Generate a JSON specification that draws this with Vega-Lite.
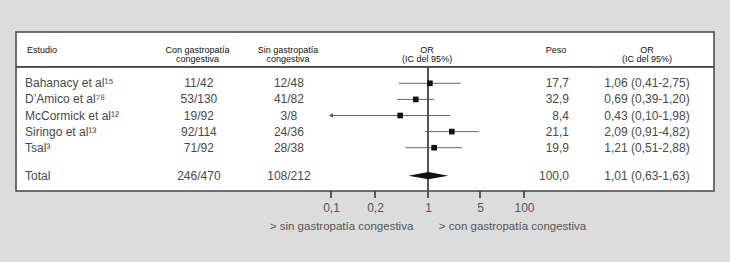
{
  "$schema": "https://vega.github.io/schema/vega-lite/v6.json",
  "autosize": "none",
  "width": 698,
  "height": 166,
  "padding": {"left": 16, "top": 32, "right": 16, "bottom": 64},
  "background": "#dcdcdc",
  "config": {
    "view": {"stroke": null},
    "font": "Liberation Sans",
    "text": {"font": "Liberation Sans"},
    "axis": {
      "domain": false, "grid": false, "ticks": false,
      "labelFontSize": 12, "labelColor": "#555555", "labelFont": "Liberation Sans",
      "labelPadding": 4, "labelFlush": false, "labelOverlap": false,
      "titleFont": "Liberation Sans", "titleFontSize": 11.5, "titleFontWeight": "normal",
      "titleColor": "#555555", "titlePadding": 7
    }
  },
  "datasets": {
    "estudios": [
      {"estudio": "Bahanacy et al¹⁵", "con": "11/42", "sin": "12/48", "peso": "17,7", "ic": "1,06 (0,41-2,75)", "or": 1.06, "lo": 0.41, "hi": 2.75, "fila": 1},
      {"estudio": "D’Amico et al⁷⁸", "con": "53/130", "sin": "41/82", "peso": "32,9", "ic": "0,69 (0,39-1,20)", "or": 0.69, "lo": 0.39, "hi": 1.20, "fila": 2},
      {"estudio": "McCormick et al¹²", "con": "19/92", "sin": "3/8", "peso": "8,4", "ic": "0,43 (0,10-1,98)", "or": 0.43, "lo": 0.10, "hi": 1.98, "fila": 3},
      {"estudio": "Siringo et al¹³", "con": "92/114", "sin": "24/36", "peso": "21,1", "ic": "2,09 (0,91-4,82)", "or": 2.09, "lo": 0.91, "hi": 4.82, "fila": 4},
      {"estudio": "Tsal³", "con": "71/92", "sin": "28/38", "peso": "19,9", "ic": "1,21 (0,51-2,88)", "or": 1.21, "lo": 0.51, "hi": 2.88, "fila": 5},
      {"estudio": "Total", "con": "246/470", "sin": "108/212", "peso": "100,0", "ic": "1,01 (0,63-1,63)", "or": 1.01, "lo": 0.63, "hi": 1.63, "fila": 6}
    ],
    "marcas": [{"v": 0.1}, {"v": 0.2}, {"v": 1}, {"v": 5}, {"v": 100}]
  },
  "data": {"name": "estudios"},
  "resolve": {"scale": {"x": "independent"}, "axis": {"x": "independent"}},
  "layer": [
    {
      "layer": [
        {
          "data": {"values": [{"caja": "tabla"}]},
          "mark": {"type": "rect", "fill": "white", "stroke": "#444444", "strokeWidth": 1.5},
          "encoding": {
            "y": {"datum": -0.54, "type": "quantitative", "axis": null,
                  "scale": {"domain": [-0.54, 0, 1, 5, 6, 6.5, 6.73], "range": [0, 18, 51.3, 115.7, 143.7, 159, 166], "nice": false, "zero": false}},
            "y2": {"datum": 6.5}
          }
        },
        {
          "transform": [{"filter": "datum.fila <= 5"}],
          "mark": {"type": "rule", "color": "#666666", "strokeWidth": 1},
          "encoding": {
            "x": {
              "field": "lo", "type": "quantitative",
              "scale": {"type": "log", "domain": [0.1, 0.2, 1, 5, 100], "range": [315, 359, 412, 464, 508], "nice": false},
              "axis": {
                "orient": "bottom",
                "values": [0.1, 0.2, 1, 5, 100],
                "labelExpr": "replace(toString(datum.value), '.', ',')",
                "title": "> sin gastropatía congestiva\u00a0\u00a0\u00a0\u00a0\u00a0\u00a0\u00a0\u00a0> con gastropatía congestiva"
              }
            },
            "x2": {"field": "hi"},
            "y": {"field": "fila", "type": "quantitative", "axis": null,
                  "scale": {"domain": [-0.54, 0, 1, 5, 6, 6.5, 6.73], "range": [0, 18, 51.3, 115.7, 143.7, 159, 166], "nice": false, "zero": false}}
          }
        },
        {
          "data": {"name": "marcas"},
          "mark": {"type": "rule", "color": "#3a3a3a", "strokeWidth": 1.6},
          "encoding": {
            "x": {"field": "v", "type": "quantitative",
                  "scale": {"type": "log", "domain": [0.1, 0.2, 1, 5, 100], "range": [315, 359, 412, 464, 508], "nice": false},
                  "axis": {
                "orient": "bottom",
                "values": [0.1, 0.2, 1, 5, 100],
                "labelExpr": "replace(toString(datum.value), '.', ',')",
                "title": "> sin gastropatía congestiva\u00a0\u00a0\u00a0\u00a0\u00a0\u00a0\u00a0\u00a0> con gastropatía congestiva"
              }},
            "y": {"datum": 6.5, "type": "quantitative", "axis": null,
                  "scale": {"domain": [-0.54, 0, 1, 5, 6, 6.5, 6.73], "range": [0, 18, 51.3, 115.7, 143.7, 159, 166], "nice": false, "zero": false}},
            "y2": {"datum": 6.73}
          }
        },
        {
          "transform": [{"filter": "datum.lo <= 0.1"}],
          "mark": {"type": "point", "shape": "triangle-left", "filled": true, "size": 22, "color": "#555555", "opacity": 1},
          "encoding": {
            "x": {"field": "lo", "type": "quantitative",
                  "scale": {"type": "log", "domain": [0.1, 0.2, 1, 5, 100], "range": [315, 359, 412, 464, 508], "nice": false},
                  "axis": {
                "orient": "bottom",
                "values": [0.1, 0.2, 1, 5, 100],
                "labelExpr": "replace(toString(datum.value), '.', ',')",
                "title": "> sin gastropatía congestiva\u00a0\u00a0\u00a0\u00a0\u00a0\u00a0\u00a0\u00a0> con gastropatía congestiva"
              }},
            "y": {"field": "fila", "type": "quantitative", "axis": null,
                  "scale": {"domain": [-0.54, 0, 1, 5, 6, 6.5, 6.73], "range": [0, 18, 51.3, 115.7, 143.7, 159, 166], "nice": false, "zero": false}}
          }
        },
        {
          "mark": {"type": "rule", "color": "#555555", "strokeWidth": 1.5},
          "encoding": {
            "x": {"datum": 1, "type": "quantitative",
                  "scale": {"type": "log", "domain": [0.1, 0.2, 1, 5, 100], "range": [315, 359, 412, 464, 508], "nice": false},
                  "axis": {
                "orient": "bottom",
                "values": [0.1, 0.2, 1, 5, 100],
                "labelExpr": "replace(toString(datum.value), '.', ',')",
                "title": "> sin gastropatía congestiva\u00a0\u00a0\u00a0\u00a0\u00a0\u00a0\u00a0\u00a0> con gastropatía congestiva"
              }},
            "y": {"datum": 0.5, "type": "quantitative", "axis": null,
                  "scale": {"domain": [-0.54, 0, 1, 5, 6, 6.5, 6.73], "range": [0, 18, 51.3, 115.7, 143.7, 159, 166], "nice": false, "zero": false}},
            "y2": {"datum": 6.73}
          }
        },
        {
          "transform": [{"filter": "datum.fila <= 5"}],
          "mark": {"type": "point", "shape": "square", "filled": true, "size": 32, "color": "#111111", "opacity": 1},
          "encoding": {
            "x": {"field": "or", "type": "quantitative",
                  "scale": {"type": "log", "domain": [0.1, 0.2, 1, 5, 100], "range": [315, 359, 412, 464, 508], "nice": false},
                  "axis": {
                "orient": "bottom",
                "values": [0.1, 0.2, 1, 5, 100],
                "labelExpr": "replace(toString(datum.value), '.', ',')",
                "title": "> sin gastropatía congestiva\u00a0\u00a0\u00a0\u00a0\u00a0\u00a0\u00a0\u00a0> con gastropatía congestiva"
              }},
            "y": {"field": "fila", "type": "quantitative", "axis": null,
                  "scale": {"domain": [-0.54, 0, 1, 5, 6, 6.5, 6.73], "range": [0, 18, 51.3, 115.7, 143.7, 159, 166], "nice": false, "zero": false}}
          }
        },
        {
          "transform": [{"filter": "datum.fila == 6"}],
          "mark": {"type": "point", "shape": "M-1,0L0,-0.18L1,0L0,0.18Z", "filled": true, "size": 1600, "color": "#111111", "opacity": 1},
          "encoding": {
            "x": {"field": "or", "type": "quantitative",
                  "scale": {"type": "log", "domain": [0.1, 0.2, 1, 5, 100], "range": [315, 359, 412, 464, 508], "nice": false},
                  "axis": {
                "orient": "bottom",
                "values": [0.1, 0.2, 1, 5, 100],
                "labelExpr": "replace(toString(datum.value), '.', ',')",
                "title": "> sin gastropatía congestiva\u00a0\u00a0\u00a0\u00a0\u00a0\u00a0\u00a0\u00a0> con gastropatía congestiva"
              }},
            "y": {"field": "fila", "type": "quantitative", "axis": null,
                  "scale": {"domain": [-0.54, 0, 1, 5, 6, 6.5, 6.73], "range": [0, 18, 51.3, 115.7, 143.7, 159, 166], "nice": false, "zero": false}}
          }
        }
      ]
    },
    {
      "layer": [
        {
          "mark": {"type": "rule", "color": "#444444", "strokeWidth": 1.2},
          "encoding": {
            "y": {"datum": 0.5, "type": "quantitative", "axis": null,
                  "scale": {"domain": [-0.54, 0, 1, 5, 6, 6.5, 6.73], "range": [0, 18, 51.3, 115.7, 143.7, 159, 166], "nice": false, "zero": false}}
          }
        },
        {
          "mark": {"type": "text", "align": "left", "baseline": "middle", "fontSize": 12, "color": "#4a4a4a"},
          "encoding": {
            "x": {"datum": 1.29, "type": "quantitative", "axis": null, "scale": {"domain": [0, 100], "nice": false, "zero": false}},
            "y": {"field": "fila", "type": "quantitative", "axis": null,
                  "scale": {"domain": [-0.54, 0, 1, 5, 6, 6.5, 6.73], "range": [0, 18, 51.3, 115.7, 143.7, 159, 166], "nice": false, "zero": false}},
            "text": {"field": "estudio"}
          }
        },
        {
          "mark": {"type": "text", "align": "center", "baseline": "middle", "fontSize": 12, "color": "#4a4a4a"},
          "encoding": {
            "x": {"datum": 26.2, "type": "quantitative", "axis": null, "scale": {"domain": [0, 100], "nice": false, "zero": false}},
            "y": {"field": "fila", "type": "quantitative", "axis": null,
                  "scale": {"domain": [-0.54, 0, 1, 5, 6, 6.5, 6.73], "range": [0, 18, 51.3, 115.7, 143.7, 159, 166], "nice": false, "zero": false}},
            "text": {"field": "con"}
          }
        },
        {
          "mark": {"type": "text", "align": "center", "baseline": "middle", "fontSize": 12, "color": "#4a4a4a"},
          "encoding": {
            "x": {"datum": 39.1, "type": "quantitative", "axis": null, "scale": {"domain": [0, 100], "nice": false, "zero": false}},
            "y": {"field": "fila", "type": "quantitative", "axis": null,
                  "scale": {"domain": [-0.54, 0, 1, 5, 6, 6.5, 6.73], "range": [0, 18, 51.3, 115.7, 143.7, 159, 166], "nice": false, "zero": false}},
            "text": {"field": "sin"}
          }
        },
        {
          "mark": {"type": "text", "align": "right", "baseline": "middle", "fontSize": 12, "color": "#4a4a4a"},
          "encoding": {
            "x": {"datum": 79.23, "type": "quantitative", "axis": null, "scale": {"domain": [0, 100], "nice": false, "zero": false}},
            "y": {"field": "fila", "type": "quantitative", "axis": null,
                  "scale": {"domain": [-0.54, 0, 1, 5, 6, 6.5, 6.73], "range": [0, 18, 51.3, 115.7, 143.7, 159, 166], "nice": false, "zero": false}},
            "text": {"field": "peso"}
          }
        },
        {
          "mark": {"type": "text", "align": "center", "baseline": "middle", "fontSize": 12, "color": "#4a4a4a"},
          "encoding": {
            "x": {"datum": 90.4, "type": "quantitative", "axis": null, "scale": {"domain": [0, 100], "nice": false, "zero": false}},
            "y": {"field": "fila", "type": "quantitative", "axis": null,
                  "scale": {"domain": [-0.54, 0, 1, 5, 6, 6.5, 6.73], "range": [0, 18, 51.3, 115.7, 143.7, 159, 166], "nice": false, "zero": false}},
            "text": {"field": "ic"}
          }
        },
        {
          "data": {"values": [
            {"titulo": ["Estudio"], "col": "estudio"}
          ]},
          "mark": {"type": "text", "align": "left", "baseline": "middle", "fontSize": 9, "lineHeight": 9, "color": "#111111"},
          "encoding": {
            "x": {"datum": 1.58, "type": "quantitative", "axis": null, "scale": {"domain": [0, 100], "nice": false, "zero": false}},
            "y": {"datum": 0, "type": "quantitative", "axis": null,
                  "scale": {"domain": [-0.54, 0, 1, 5, 6, 6.5, 6.73], "range": [0, 18, 51.3, 115.7, 143.7, 159, 166], "nice": false, "zero": false}},
            "text": {"field": "titulo"}
          }
        },
        {
          "data": {"values": [
            {"titulo": ["Con gastropatía", "congestiva"], "col": "con"}
          ]},
          "mark": {"type": "text", "align": "center", "baseline": "middle", "fontSize": 9, "lineHeight": 9, "color": "#111111"},
          "encoding": {
            "x": {"datum": 26.0, "type": "quantitative", "axis": null, "scale": {"domain": [0, 100], "nice": false, "zero": false}},
            "y": {"datum": 0, "type": "quantitative", "axis": null,
                  "scale": {"domain": [-0.54, 0, 1, 5, 6, 6.5, 6.73], "range": [0, 18, 51.3, 115.7, 143.7, 159, 166], "nice": false, "zero": false}},
            "text": {"field": "titulo"}
          }
        },
        {
          "data": {"values": [
            {"titulo": ["Sin gastropatía", "congestiva"], "col": "sin"}
          ]},
          "mark": {"type": "text", "align": "center", "baseline": "middle", "fontSize": 9, "lineHeight": 9, "color": "#111111"},
          "encoding": {
            "x": {"datum": 38.97, "type": "quantitative", "axis": null, "scale": {"domain": [0, 100], "nice": false, "zero": false}},
            "y": {"datum": 0, "type": "quantitative", "axis": null,
                  "scale": {"domain": [-0.54, 0, 1, 5, 6, 6.5, 6.73], "range": [0, 18, 51.3, 115.7, 143.7, 159, 166], "nice": false, "zero": false}},
            "text": {"field": "titulo"}
          }
        },
        {
          "data": {"values": [
            {"titulo": ["OR", "(IC del 95%)"], "col": "grafico"}
          ]},
          "mark": {"type": "text", "align": "center", "baseline": "middle", "fontSize": 9, "lineHeight": 9, "color": "#111111"},
          "encoding": {
            "x": {"datum": 58.9, "type": "quantitative", "axis": null, "scale": {"domain": [0, 100], "nice": false, "zero": false}},
            "y": {"datum": 0, "type": "quantitative", "axis": null,
                  "scale": {"domain": [-0.54, 0, 1, 5, 6, 6.5, 6.73], "range": [0, 18, 51.3, 115.7, 143.7, 159, 166], "nice": false, "zero": false}},
            "text": {"field": "titulo"}
          }
        },
        {
          "data": {"values": [
            {"titulo": ["Peso"], "col": "peso"}
          ]},
          "mark": {"type": "text", "align": "center", "baseline": "middle", "fontSize": 9, "lineHeight": 9, "color": "#111111"},
          "encoding": {
            "x": {"datum": 77.36, "type": "quantitative", "axis": null, "scale": {"domain": [0, 100], "nice": false, "zero": false}},
            "y": {"datum": 0, "type": "quantitative", "axis": null,
                  "scale": {"domain": [-0.54, 0, 1, 5, 6, 6.5, 6.73], "range": [0, 18, 51.3, 115.7, 143.7, 159, 166], "nice": false, "zero": false}},
            "text": {"field": "titulo"}
          }
        },
        {
          "data": {"values": [
            {"titulo": ["OR", "(IC del 95%)"], "col": "ic"}
          ]},
          "mark": {"type": "text", "align": "center", "baseline": "middle", "fontSize": 9, "lineHeight": 9, "color": "#111111"},
          "encoding": {
            "x": {"datum": 90.4, "type": "quantitative", "axis": null, "scale": {"domain": [0, 100], "nice": false, "zero": false}},
            "y": {"datum": 0, "type": "quantitative", "axis": null,
                  "scale": {"domain": [-0.54, 0, 1, 5, 6, 6.5, 6.73], "range": [0, 18, 51.3, 115.7, 143.7, 159, 166], "nice": false, "zero": false}},
            "text": {"field": "titulo"}
          }
        }
      ]
    }
  ]
}
